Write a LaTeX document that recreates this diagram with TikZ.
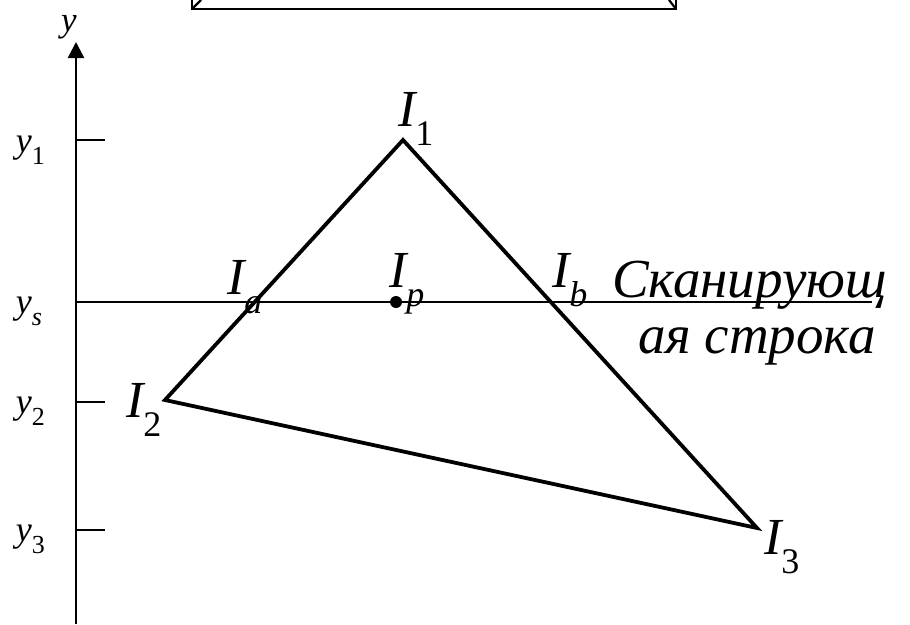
\documentclass[tikz,border=0pt]{standalone}
\usepackage{fontspec}
\setmainfont{Liberation Serif}
\usetikzlibrary{arrows.meta}
\newcommand{\biglab}[2]{{\fontsize{52}{52}\selectfont\itshape #1}\raisebox{-19pt}{\fontsize{36}{36}\selectfont #2}}
\newcommand{\ylab}[1]{{\fontsize{36}{36}\selectfont\itshape y}\raisebox{-12pt}{\fontsize{26}{26}\selectfont #1}}
\tikzset{
  lab/.style={anchor=base west, inner sep=0pt, outer sep=0pt},
  tri/.style={line width=3.8pt, line join=miter},
  tick/.style={line width=1.6pt},
  axis/.style={line width=2.6pt},
  scan/.style={line width=1.8pt},
  frame/.style={line width=2.2pt}
}
\begin{document}
\begin{tikzpicture}[x=1pt,y=-1pt]
\useasboundingbox (0,0) rectangle (910,624);
\begin{scope}
\clip (0,0) rectangle (910,624);
\draw[frame] (192,-5) -- (192,9) -- (676,9) -- (676,-5);
\draw[frame] (192,9) -- (201,0);
\draw[frame] (676,9) -- (669,0);
\end{scope}
% coordinates
\coordinate (I1) at (403,140);
\coordinate (I2) at (165,400);
\coordinate (I3) at (757,528);
\coordinate (Ip) at (396,302);
\coordinate (axb) at (76,624);
\coordinate (axt) at (76,42);
\coordinate (t1) at (76,140);
\coordinate (t1e) at (105,140);
\coordinate (t2) at (76,402);
\coordinate (t2e) at (105,402);
\coordinate (t3) at (76,530);
\coordinate (t3e) at (105,530);
\coordinate (ts) at (76,302);
\coordinate (tse) at (872,302);
% axis
\draw[axis, -{Triangle[length=16pt,width=16pt]}] (axb) -- (axt);
\draw[tick] (t1) -- (t1e);
\draw[tick] (t2) -- (t2e);
\draw[tick] (t3) -- (t3e);
\draw[scan] (ts) -- (tse);
% triangle
\draw[tri] (I1) -- (I2) -- (I3) -- cycle;
\fill (Ip) circle (6pt);
% labels
\node[lab] (ly) at (61,31) {\fontsize{35}{35}\selectfont\itshape y};
\node[lab] (ly1) at (16,152) {\ylab{1}};
\node[lab] (lys) at (16,313) {\ylab{\itshape s}};
\node[lab] (ly2) at (16,413) {\ylab{2}};
\node[lab] (ly3) at (16,541) {\ylab{3}};
\node[lab] (lI1) at (398,126) {\biglab{I}{1}};
\node[lab] (lI2) at (126,417) {\biglab{I}{2}};
\node[lab] (lI3) at (764,554) {\biglab{I}{3}};
\node[lab] (lIa) at (227,294) {\biglab{I}{\itshape a}};
\node[lab] (lIp) at (389,287) {\biglab{I}{\itshape p}};
\node[lab] (lIb) at (552,287) {\biglab{I}{\itshape b}};
\node[lab] (scan1) at (612,297) {\fontsize{55}{55}\selectfont\itshape Сканирующ};
\node[lab] (scan2) at (638,353) {\fontsize{55}{55}\selectfont\itshape ая строка};
\end{tikzpicture}
\end{document}
